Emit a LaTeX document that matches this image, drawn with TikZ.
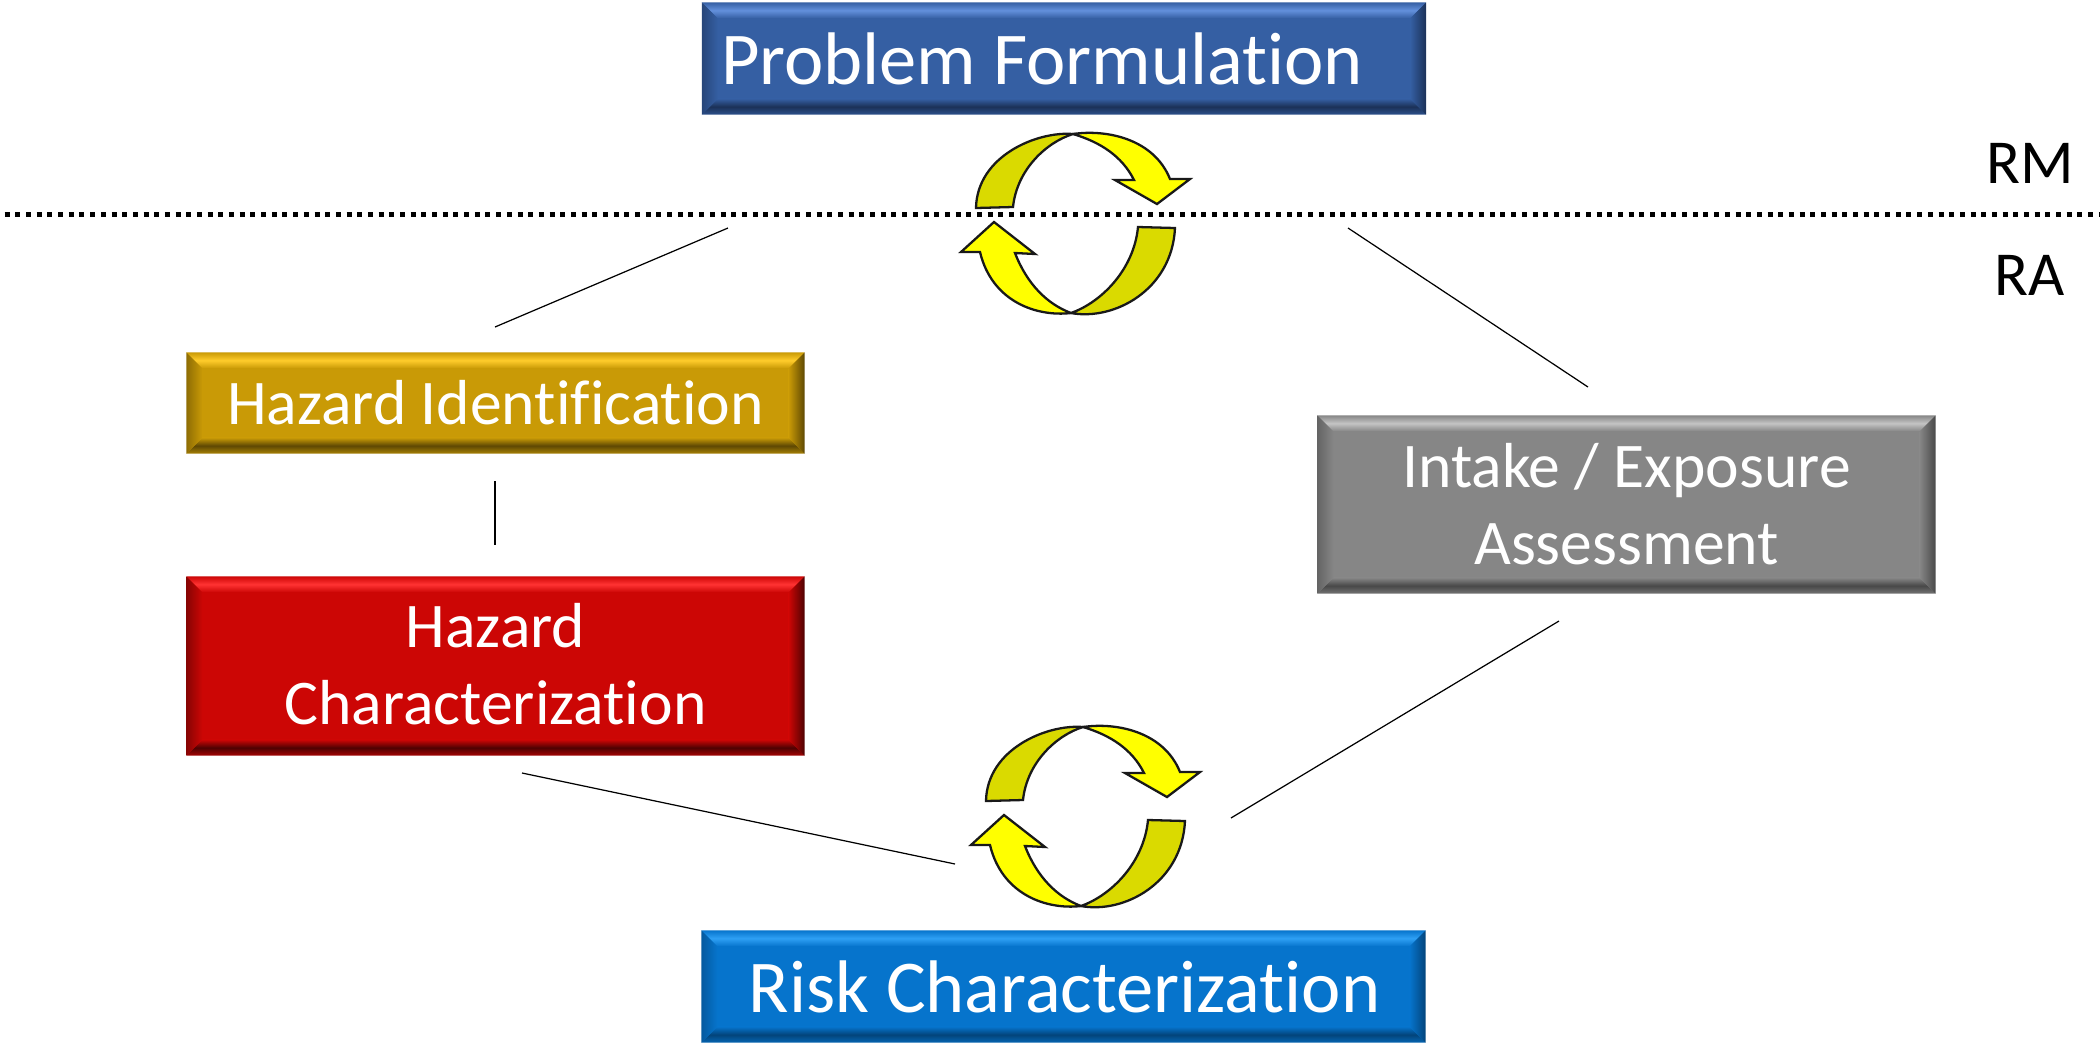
\documentclass[tikz,border=0pt]{standalone}
\usepackage{fontspec}
\setmainfont{Carlito}[Ligatures=NoCommon]
\usetikzlibrary{calc}
\definecolor{goldbase}{HTML}{C99A06}
\definecolor{goldlight}{HTML}{FFCC2B}
\definecolor{golddark}{HTML}{5E4803}
\definecolor{redbase}{HTML}{CC0605}
\definecolor{redlight}{HTML}{FF3333}
\definecolor{reddark}{HTML}{4E0202}
\definecolor{slatebase}{HTML}{355FA3}
\definecolor{slatelight}{HTML}{6390DC}
\definecolor{slatedark}{HTML}{1B3157}
\definecolor{greybase}{HTML}{868686}
\definecolor{greylight}{HTML}{C4C4C4}
\definecolor{greydark}{HTML}{484848}
\definecolor{skybase}{HTML}{0674CC}
\definecolor{skylight}{HTML}{2FA0F5}
\definecolor{skydark}{HTML}{03447A}
\definecolor{cycledark}{HTML}{DADA00}
\definecolor{cyclelight}{HTML}{FFFF00}
\tikzset{
    block/.style={minimum width=6.17cm,inner sep=0pt,align=center,text=white,font=\fontsize{18.1}{21.9}\selectfont},
    wide block/.style={block,minimum width=7.23cm,minimum height=1.11cm,font=\fontsize{21.2}{24}\selectfont},
    side label/.style={inner sep=0pt,font=\fontsize{17.8}{20}\selectfont},
    link/.style={black,line width=0.35pt},
    cycle part/.style={draw=black!90,line width=0.65pt,line join=miter},
    pics/cycle arrows/.style={code={
        % Upper half
        \path[cycle part,fill=cycledark](-0.96,0.16)..controls(-0.95,0.68)and(-0.35,0.93)..(0.01,0.90)..controls(-0.25,0.82)and(-0.55,0.55)..(-0.59,0.17)--cycle;
        \path[cycle part,fill=cyclelight](0.01,0.90)..controls(0.35,0.95)and(0.82,0.85)..(0.98,0.45)--(1.18,0.45)--(0.85,0.20)--(0.43,0.44)--(0.62,0.44)..controls(0.50,0.68)and(0.28,0.82)..(0.01,0.90)--cycle;
        % Lower half
        \path[cycle part,fill=cycledark](1.03,-0.04)..controls(1.00,-0.66)and(0.42,-0.97)..(-0.01,-0.89)..controls(0.30,-0.78)and(0.62,-0.45)..(0.66,-0.03)--cycle;
        \path[cycle part,fill=cyclelight](-0.01,-0.89)..controls(-0.35,-0.93)and(-0.80,-0.78)..(-0.92,-0.28)--(-1.11,-0.28)--(-0.78,0.02)--(-0.37,-0.30)--(-0.57,-0.29)..controls(-0.45,-0.60)and(-0.25,-0.80)..(-0.01,-0.89)--cycle;
    }}
}
% Node name, light edge, dark edge, face
\newcommand{\bevelblock}[4]{
    \coordinate(nw)at($(#1.north west)+(0.16,-0.16)$);
    \coordinate(ne)at($(#1.north east)+(-0.16,-0.16)$);
    \coordinate(sw)at($(#1.south west)+(0.16,0.16)$);
    \coordinate(se)at($(#1.south east)+(-0.16,0.16)$);
    \shade[top color=#4,bottom color=#4,middle color=#2](#1.north west)--(#1.north east)--(ne)--(nw)--cycle;
    \shade[top color=#4,bottom color=#4!70!#3,middle color=#3](sw)--(se)--(#1.south east)--(#1.south west)--cycle;
    \shade[left color=#4!45!#3,right color=#4](#1.north west)--(nw)--(sw)--(#1.south west)--cycle;
    \shade[left color=#4,right color=#3](ne)--(#1.north east)--(#1.south east)--(se)--cycle;
}
\begin{document}
\begin{tikzpicture}
    \useasboundingbox(0,0)rectangle(21,-10.44);
    % Boxes
    \node[wide block,fill=slatebase](problem)at(10.64,-0.585){};
    \bevelblock{problem}{slatelight}{slatedark}{slatebase}
    \node[block,minimum height=1.00cm,fill=goldbase](hazardid)at(4.955,-4.03){Hazard Identification};
    \bevelblock{hazardid}{goldlight}{golddark}{goldbase}
    \node[block,minimum height=1.78cm,fill=redbase](hazardchar)at(4.955,-6.66){};
    \bevelblock{hazardchar}{redlight}{reddark}{redbase}
    \node[block,minimum height=1.77cm,fill=greybase](intake)at(16.265,-5.045){};
    \bevelblock{intake}{greylight}{greydark}{greybase}
    \node[wide block,fill=skybase](risk)at(10.635,-9.865){};
    \bevelblock{risk}{skylight}{skydark}{skybase}
    % Box texts
    \node[wide block,anchor=center](problemtext)at(10.42,-0.585){Problem Formulation};
    \node[block](hazardchartext)at(4.955,-6.64){Hazard\\Characterization};
    \node[block](intaketext)at(16.265,-5.04){Intake / Exposure\\Assessment};
    \node[wide block](risktext)at(10.645,-9.87){Risk Characterization};
    % Boundary
    \coordinate(lineL)at(0,-2.145);
    \coordinate(lineR)at(21,-2.145);
    \draw[black,line width=1.42pt,dash pattern=on 1.42pt off 1.62pt,dash phase=1.71pt](lineL)--(lineR);
    \node[side label](rm)at(20.30,-1.63){RM};
    \node[side label](ra)at(20.30,-2.75){RA};
    % Cycles
    \pic at(10.72,-2.24){cycle arrows};
    \pic at(10.82,-8.17){cycle arrows};
    % Links
    \coordinate(a1)at(7.28,-2.28);
    \coordinate(a2)at(4.95,-3.27);
    \coordinate(b1)at(13.48,-2.28);
    \coordinate(b2)at(15.88,-3.87);
    \coordinate(c1)at(4.95,-4.81);
    \coordinate(c2)at(4.95,-5.45);
    \coordinate(d1)at(5.22,-7.73);
    \coordinate(d2)at(9.55,-8.64);
    \coordinate(e1)at(15.59,-6.21);
    \coordinate(e2)at(12.31,-8.18);
    \draw[link](a1)--(a2);
    \draw[link](b1)--(b2);
    \draw[link](c1)--(c2);
    \draw[link](d1)--(d2);
    \draw[link](e1)--(e2);
\end{tikzpicture}
\end{document}
